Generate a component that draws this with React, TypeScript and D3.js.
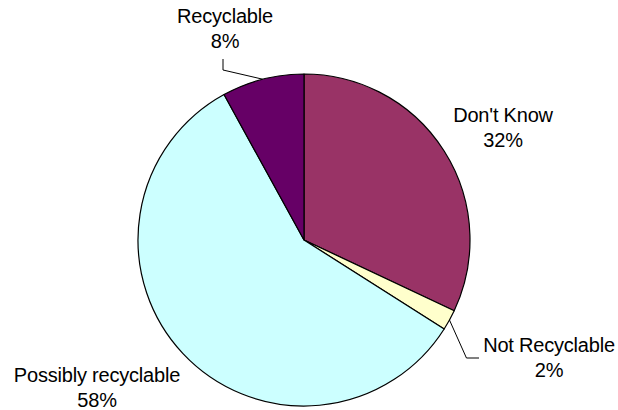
import React from "react";
import * as d3 from "d3";

const categories = ["Don't Know", "Not Recyclable", "Possibly recyclable", "Recyclable"];
const values = [32, 2, 58, 8];
const percentLabels = ["32%", "2%", "58%", "8%"];
const colors = ["#993366", "#FFFFCC", "#CCFFFF", "#660066"];

const W = 618;
const H = 410;
const CX = 304;
const CY = 240;
const R = 166;
const FONT = 20;
const LINE = 24.5;

// label centre offsets (relative to pie centre) — layout only
const labelOffsets: [number, number][] = [
  [199, -118],
  [245, 112],
  [-207, 142],
  [-79, -217],
];

export default function App() {
  const pie = d3.pie<number>().sort(null).value((d) => d);
  const arcs = pie(values);
  const arc = d3.arc<d3.PieArcDatum<number>>().innerRadius(0).outerRadius(R);

  const edge = (a: d3.PieArcDatum<number>) => {
    const m = (a.startAngle + a.endAngle) / 2;
    return [CX + R * Math.sin(m), CY - R * Math.cos(m)];
  };

  const recEdge = edge(arcs[3]);
  const nrEdge = edge(arcs[1]);
  const recLabelX = CX + labelOffsets[3][0];
  const nrLabelX = CX + labelOffsets[1][0];
  const nrBase = CY + labelOffsets[1][1];
  const recLeader = [
    [recLabelX - 2, 59],
    [recLabelX - 2, 70],
    recEdge,
  ];
  const nrLeader = [
    nrEdge,
    [nrEdge[0] + 17, nrBase + 6],
    [nrLabelX - 70, nrBase + 6],
  ];
  const line = d3.line();

  return (
    <svg
      width={W}
      height={H}
      style={{ position: "absolute", left: 0, top: 0, background: "#fff" }}
      fontFamily="'Liberation Sans', Arial, sans-serif"
    >
      <g transform={`translate(${CX},${CY})`}>
        {arcs.map((a, i) => (
          <path key={i} d={arc(a) || ""} fill={colors[i]} stroke="#000" strokeWidth={1.2} strokeLinejoin="round" />
        ))}
      </g>
      <path d={line(recLeader as [number, number][]) || ""} fill="none" stroke="#000" strokeWidth={1} />
      <path d={line(nrLeader as [number, number][]) || ""} fill="none" stroke="#000" strokeWidth={1} />
      {categories.map((c, i) => {
        const x = CX + labelOffsets[i][0];
        const y = CY + labelOffsets[i][1];
        return (
          <text key={c} x={x} y={y} textAnchor="middle" fontSize={FONT} fill="#000" letterSpacing={-0.2}>
            <tspan x={x} dy={0}>{c}</tspan>
            <tspan x={x} dy={LINE}>{percentLabels[i]}</tspan>
          </text>
        );
      })}
    </svg>
  );
}
